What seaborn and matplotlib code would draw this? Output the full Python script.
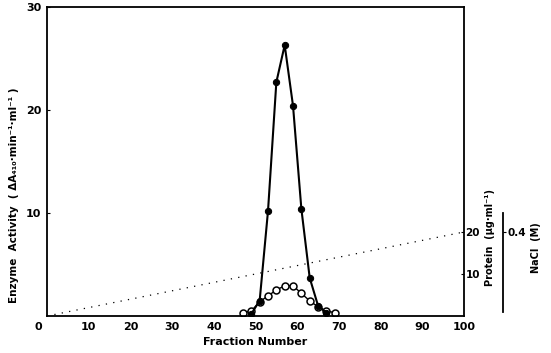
import matplotlib
matplotlib.use("Agg")
import matplotlib.pyplot as plt
from matplotlib.transforms import ScaledTranslation
import pandas as pd
import seaborn as sns

# Elution profile: enzyme activity, protein and NaCl gradient per fraction
fraction_enzyme = [49, 51, 53, 55, 57, 59, 61, 63, 65, 67]
enzyme_activity = [0.2, 1.5, 10.2, 22.7, 26.3, 20.4, 10.4, 3.7, 1.0, 0.3]

fraction_protein = [47, 49, 51, 53, 55, 57, 59, 61, 63, 65, 67, 69]
protein = [0.8, 1.2, 3.4, 4.8, 6.2, 7.2, 7.2, 5.4, 3.6, 2.2, 1.2, 0.8]

fraction_nacl = [0, 100]
nacl = [0.0, 0.4]

x_ticks = [0, 10, 20, 30, 40, 50, 60, 70, 80, 90, 100]
y_ticks = [10, 20, 30]
protein_ticks = [10, 20]
nacl_ticks = [0.4]

sns.set_style("white")
plt.rcParams["font.family"] = ["DejaVu Sans"]
plt.rcParams["font.weight"] = "bold"
plt.rcParams["axes.labelweight"] = "bold"
for key in ["text.color", "axes.labelcolor", "xtick.color", "ytick.color"]:
    plt.rcParams[key] = "black"

enzyme_df = pd.DataFrame({"fraction": fraction_enzyme, "activity": enzyme_activity})
protein_df = pd.DataFrame({"fraction": fraction_protein, "protein": protein})
nacl_df = pd.DataFrame({"fraction": fraction_nacl, "nacl": nacl})

fig = plt.figure(figsize=(5.51, 3.53), dpi=100)
ax = fig.add_axes([0.0853, 0.1048, 0.7568, 0.8754])

# Protein scale (right spine) and NaCl scale (offset spine)
ax2 = ax.twinx()
ax3 = ax.twinx()

sns.lineplot(data=nacl_df, x="fraction", y="nacl", ax=ax3, color="black",
             linestyle=(0, (1, 5)), linewidth=0.9)
sns.lineplot(data=protein_df, x="fraction", y="protein", ax=ax2, color="black",
             linewidth=1.0, marker="o", markersize=5, markerfacecolor="white",
             markeredgecolor="black", markeredgewidth=1.1)
sns.lineplot(data=enzyme_df, x="fraction", y="activity", ax=ax, color="black",
             linewidth=1.5, marker="o", markersize=4.5, markerfacecolor="black",
             markeredgecolor="black")
ax.set_zorder(3)
ax.patch.set_visible(False)

# Main axes
ax.set_xlim(0, 100)
ax.set_ylim(0, 30)
ax.set_xticks(x_ticks)
ax.set_xticklabels([str(t) for t in x_ticks], fontsize=8, fontweight="bold")
ax.set_yticks(y_ticks)
ax.set_yticklabels([str(t) for t in y_ticks], fontsize=8, fontweight="bold")
ax.tick_params(axis="both", direction="in", length=2, width=0.8, pad=4)
for side in ["left", "bottom", "top", "right"]:
    ax.spines[side].set_visible(True)
    ax.spines[side].set_color("black")
    ax.spines[side].set_linewidth(1.3)
ax.xaxis.get_majorticklabels()[0].set_transform(
    ax.xaxis.get_majorticklabels()[0].get_transform()
    + ScaledTranslation(-9 / 100, 0, fig.dpi_scale_trans))
ax.set_xlabel("Fraction Number", fontsize=8, fontweight="bold", labelpad=4)
ax.set_ylabel("Enzyme  Activity  ( ΔA₄₁₀·min⁻¹·ml⁻¹ )", fontsize=7.5,
              fontweight="bold", labelpad=6)
ax.yaxis.set_label_coords(-0.068, 0.39)

# Protein axis
ax2.set_ylim(0, 73.6)
ax2.set_yticks(protein_ticks)
ax2.set_yticklabels([str(t) for t in protein_ticks], fontsize=7.5, fontweight="bold")
ax2.tick_params(axis="y", direction="in", length=2, width=0.8, pad=1)
for side in ["left", "bottom", "top", "right"]:
    ax2.spines[side].set_visible(False)
ax2.set_ylabel("")
fig.text(490 / 551, 1 - 238 / 353, "Protein  (µg·ml⁻¹)", rotation=90,
         ha="center", va="center", fontsize=7, fontweight="bold")

# NaCl axis
ax3.set_ylim(0, 1.471)
ax3.spines["right"].set_position(("axes", 1.0935))
ax3.spines["right"].set_visible(True)
ax3.spines["right"].set_color("black")
ax3.spines["right"].set_linewidth(1.3)
ax3.spines["right"].set_bounds(0.02, 0.49)
for side in ["left", "bottom", "top"]:
    ax3.spines[side].set_visible(False)
ax3.set_yticks(nacl_ticks)
ax3.set_yticklabels(["0.4"], fontsize=7.5, fontweight="bold")
ax3.tick_params(axis="y", direction="out", length=2, width=0.8, pad=1)
ax3.set_ylabel("")
fig.text(536 / 551, 1 - 248 / 353, "NaCl  (M)", rotation=90,
         ha="center", va="center", fontsize=7, fontweight="bold")

fig.savefig("out.png", dpi=100)
